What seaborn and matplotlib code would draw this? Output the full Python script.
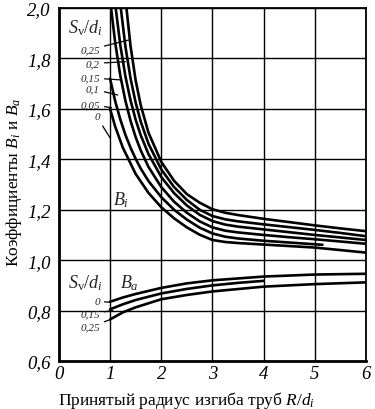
import numpy as np
import pandas as pd
import matplotlib
matplotlib.use("Agg")
import matplotlib.pyplot as plt
import seaborn as sns

# ---- data ----
# B_i curves (S_v/d_i = 0.25 ... 0)
bi_025_x = [1.32, 1.40, 1.50, 1.60, 1.75, 2.00, 2.25, 2.50, 2.75, 3.00, 3.25, 3.50, 4.00, 4.50, 5.00, 5.50, 6.00]
bi_025_y = [2.00, 1.849, 1.713, 1.614, 1.506, 1.390, 1.315, 1.262, 1.228, 1.202, 1.188, 1.179, 1.164, 1.151, 1.138, 1.126, 1.115]
bi_020_x = [1.21, 1.30, 1.40, 1.50, 1.60, 1.75, 2.00, 2.25, 2.50, 2.75, 3.00, 3.25, 3.50, 4.00, 4.50, 5.00, 5.50, 6.00]
bi_020_y = [2.00, 1.847, 1.721, 1.625, 1.549, 1.462, 1.360, 1.290, 1.239, 1.200, 1.175, 1.162, 1.154, 1.142, 1.131, 1.120, 1.108, 1.095]
bi_015_x = [1.11, 1.20, 1.30, 1.40, 1.50, 1.60, 1.75, 2.00, 2.25, 2.50, 2.75, 3.00, 3.25, 3.50, 4.00, 4.50, 5.00, 5.50, 6.00]
bi_015_y = [2.00, 1.853, 1.729, 1.634, 1.557, 1.495, 1.421, 1.330, 1.266, 1.217, 1.180, 1.155, 1.141, 1.133, 1.122, 1.111, 1.100, 1.090, 1.080]
bi_010_x = [1.02, 1.10, 1.20, 1.30, 1.40, 1.50, 1.60, 1.75, 2.00, 2.25, 2.50, 2.75, 3.00, 3.25, 3.50, 4.00, 4.50, 5.00, 5.50, 6.00]
bi_010_y = [2.00, 1.863, 1.732, 1.632, 1.553, 1.488, 1.435, 1.370, 1.290, 1.232, 1.188, 1.154, 1.130, 1.117, 1.110, 1.100, 1.091, 1.083, 1.074, 1.065]
bi_005_x = [1.00, 1.10, 1.20, 1.30, 1.40, 1.50, 1.60, 1.75, 2.00, 2.25, 2.50, 2.75, 3.00, 3.25, 3.50, 4.00, 4.50, 5.00, 5.15]
bi_005_y = [1.72, 1.631, 1.558, 1.497, 1.446, 1.402, 1.363, 1.314, 1.250, 1.200, 1.161, 1.129, 1.106, 1.093, 1.086, 1.077, 1.070, 1.063, 1.061]
bi_000_x = [1.00, 1.10, 1.25, 1.50, 1.75, 2.00, 2.25, 2.50, 2.75, 3.00, 3.25, 3.50, 4.00, 4.50, 5.00, 5.50, 6.00]
bi_000_y = [1.60, 1.530, 1.446, 1.342, 1.267, 1.210, 1.166, 1.130, 1.101, 1.080, 1.072, 1.068, 1.062, 1.056, 1.050, 1.040, 1.030]

# B_a curves (S_v/d_i = 0, 0.15, 0.25)
ba_000_x = [1.00, 1.25, 1.50, 2.00, 2.50, 3.00, 4.00, 5.00, 6.00]
ba_000_y = [0.835, 0.852, 0.866, 0.890, 0.908, 0.920, 0.935, 0.943, 0.946]
ba_015_x = [1.00, 1.25, 1.50, 2.00, 2.50, 3.00, 3.50, 4.00]
ba_015_y = [0.805, 0.825, 0.842, 0.868, 0.886, 0.900, 0.910, 0.918]
ba_025_x = [1.00, 1.25, 1.50, 2.00, 2.50, 3.00, 4.00, 5.00, 6.00]
ba_025_y = [0.765, 0.793, 0.813, 0.845, 0.862, 0.876, 0.895, 0.905, 0.912]

bi_labels = ["0,25", "0,2", "0,15", "0,1", "0,05", "0"]
ba_labels = ["0", "0,15", "0,25"]
x_ticks = [0, 1, 2, 3, 4, 5, 6]
y_ticks = [0.6, 0.8, 1.0, 1.2, 1.4, 1.6, 1.8, 2.0]
y_tick_labels = ["0,6", "0,8", "1,0", "1,2", "1,4", "1,6", "1,8", "2,0"]

curves = {
    "Bi 0.25": (bi_025_x, bi_025_y), "Bi 0.2": (bi_020_x, bi_020_y),
    "Bi 0.15": (bi_015_x, bi_015_y), "Bi 0.1": (bi_010_x, bi_010_y),
    "Bi 0.05": (bi_005_x, bi_005_y), "Bi 0": (bi_000_x, bi_000_y),
    "Ba 0": (ba_000_x, ba_000_y), "Ba 0.15": (ba_015_x, ba_015_y),
    "Ba 0.25": (ba_025_x, ba_025_y),
}
rows = []
for name, (xs, ys) in curves.items():
    for i, (xv, yv) in enumerate(zip(xs, ys)):
        rows.append({"curve": name, "order": i, "x": xv, "y": yv})
df = pd.DataFrame(rows)

# ---- style ----
sns.set_theme(style="white")
plt.rcParams["font.family"] = ["Liberation Serif", "DejaVu Serif"]
plt.rcParams["mathtext.fontset"] = "custom"
plt.rcParams["mathtext.rm"] = "Liberation Serif"
plt.rcParams["mathtext.it"] = "Liberation Serif:italic"

fig, ax = plt.subplots(figsize=(3.75, 4.10), dpi=100)
fig.subplots_adjust(left=0.157, right=0.976, top=0.978, bottom=0.117)

sns.lineplot(data=df, x="x", y="y", units="curve", estimator=None, sort=False,
             color="black", lw=1.9, ax=ax, legend=False)

ax.set_xlim(0, 6)
ax.set_ylim(0.6, 2.0)
ax.set_xticks(x_ticks)
ax.set_xticklabels([str(t) for t in x_ticks], fontstyle="italic", fontsize=13.5)
ax.set_yticks(y_ticks)
ax.set_yticklabels(y_tick_labels, fontstyle="italic", fontsize=13.5)
ax.tick_params(length=0, colors="black")
ax.tick_params(axis="x", pad=3)
ax.tick_params(axis="y", pad=6)
ax.grid(True, color="black", lw=1.0)
for s in ax.spines.values():
    s.set_color("black")
    s.set_linewidth(1.3)
ax.spines["left"].set_linewidth(2.0)
ax.spines["bottom"].set_linewidth(2.0)

ax.set_xlabel("Принятый радиус изгиба труб $R/d_i$", fontsize=12.5, color="black")
ax.xaxis.set_label_coords(0.415, -0.078)
ax.set_ylabel("Коэффициенты $B_i$ и $B_a$", fontsize=12.5, color="black")
ax.yaxis.set_label_coords(-0.112, 0.51)

# ---- annotations ----
ax.text(0.17, 1.925, r"$S_\mathrm{v}/d_i$", fontsize=13, va="center", ha="left")
bi_label_y = [1.835, 1.780, 1.723, 1.679, 1.616, 1.568]
bi_tip = [(1.40, 1.875), (1.30, 1.787), (1.20, 1.715), (1.15, 1.655), (1.03, 1.605), (1.00, 1.485)]
for lab, ly, tip in zip(bi_labels, bi_label_y, bi_tip):
    ax.annotate(lab, xy=tip, xytext=(0.80, ly), fontsize=8, fontstyle="italic",
                ha="right", va="center",
                arrowprops=dict(arrowstyle="-", color="black", lw=0.9,
                                shrinkA=1, shrinkB=0))
ax.text(1.06, 1.243, r"$B_i$", fontsize=13, va="center", ha="left")

ax.text(0.17, 0.913, r"$S_\mathrm{v}/d_i$", fontsize=13, va="center", ha="left")
ax.text(1.20, 0.913, r"$B_a$", fontsize=13, va="center", ha="left")
ba_label_y = [0.837, 0.787, 0.735]
ba_tip = [(1.00, 0.833), (1.05, 0.800), (1.00, 0.764)]
for lab, ly, tip in zip(ba_labels, ba_label_y, ba_tip):
    ax.annotate(lab, xy=tip, xytext=(0.80, ly), fontsize=8, fontstyle="italic",
                ha="right", va="center",
                arrowprops=dict(arrowstyle="-", color="black", lw=0.9,
                                shrinkA=1, shrinkB=0))

fig.savefig("out.png", dpi=100, facecolor="white")
